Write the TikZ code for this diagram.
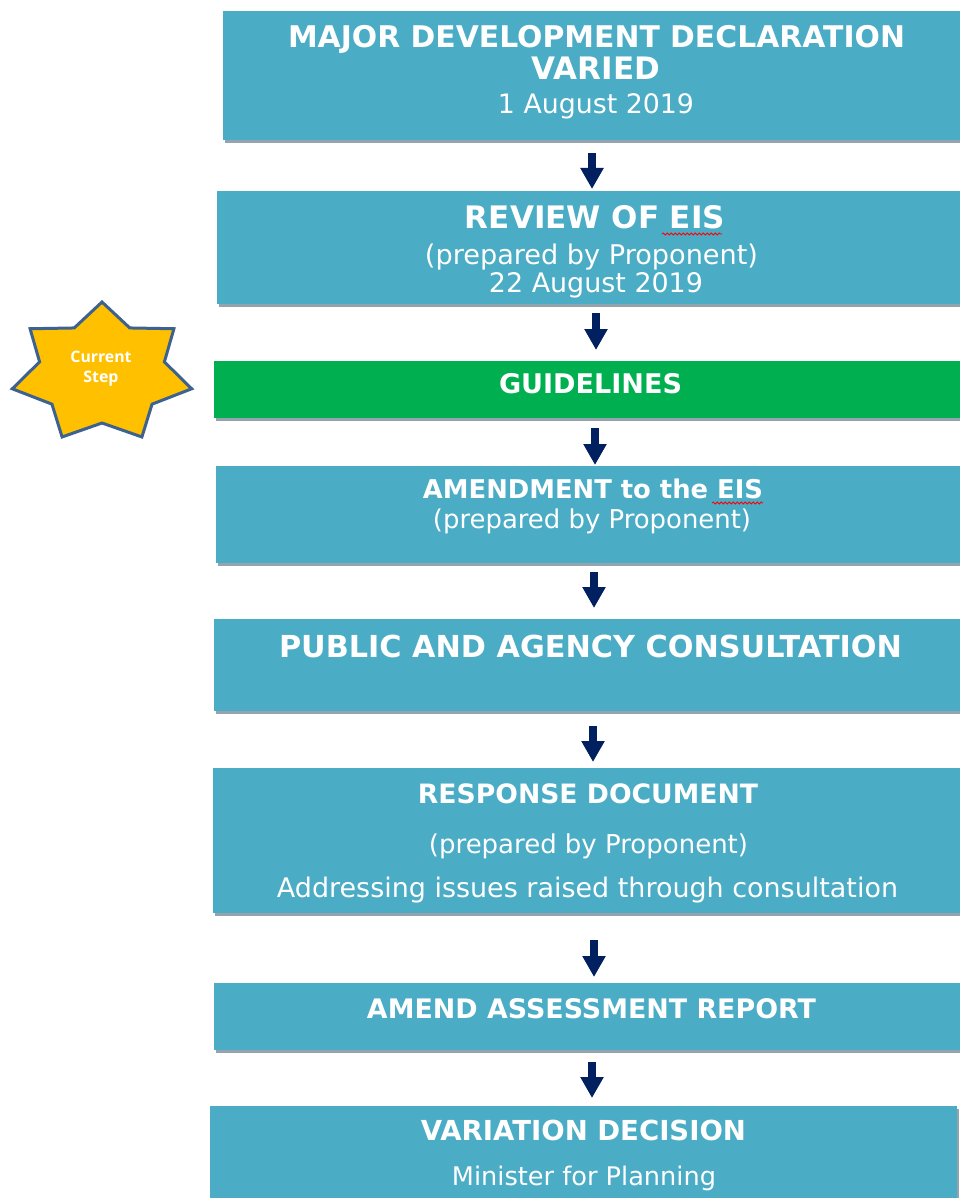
\documentclass[tikz,border=0pt]{standalone}
\usepackage{fontspec}
\setmainfont{DejaVu Sans}
\newfontfamily\starfont{Open Sans}
\usepackage{graphicx}
\usetikzlibrary{shadows,arrows.meta,decorations.pathmorphing}

\definecolor{stepblue}{HTML}{4BACC6}
\definecolor{stepgreen}{HTML}{00B050}
\definecolor{arrownavy}{HTML}{002060}
\definecolor{starfill}{HTML}{FFC000}
\definecolor{starline}{HTML}{3E6290}
\definecolor{shadowgray}{HTML}{93A4AE}

% bold heading line and plain line, each scaled to a given width
\newcommand{\capsline}[2]{\resizebox{#1pt}{!}{\bfseries #2}}
\newcommand{\textline}[2]{\resizebox{#1pt}{!}{#2}}

\tikzset{
  stepbox/.style={fill=stepblue, draw=none, inner sep=0pt, outer sep=0pt,
    anchor=north west,
    drop shadow={shadow xshift=2pt, shadow yshift=-3pt, fill=shadowgray, opacity=1}},
  greenbox/.style={stepbox, fill=stepgreen},
  tx/.style={anchor=base, inner sep=0pt, outer sep=0pt, text=white},
  flowarrow/.style={draw=arrownavy, line width=8pt,
    -{Triangle[width=22pt,length=21pt]}},
  spellmark/.style={draw=red, line width=0.8pt, decorate,
    decoration={snake, amplitude=1pt, segment length=4pt}},
}

\begin{document}
\begin{tikzpicture}[x=1pt, y=-1pt]
\useasboundingbox (0,0) rectangle (960,1198);

% process boxes
\node[stepbox, minimum width=739pt, minimum height=129pt] (b1) at (223,11) {};
\node[stepbox, minimum width=745pt, minimum height=113pt] (b2) at (217,191) {};
\node[greenbox, minimum width=748pt, minimum height=57pt] (b3) at (214,361) {};
\node[stepbox, minimum width=746pt, minimum height=97pt] (b4) at (216,466) {};
\node[stepbox, minimum width=748pt, minimum height=92pt] (b5) at (214,619) {};
\node[stepbox, minimum width=749pt, minimum height=145pt] (b6) at (213,768) {};
\node[stepbox, minimum width=748pt, minimum height=67pt] (b7) at (214,983) {};
\node[stepbox, minimum width=747pt, minimum height=96pt] (b8) at (210,1106) {};

% box texts
\node[tx] (t1a) at (596.5,48) {\capsline{617}{MAJOR DEVELOPMENT DECLARATION}};
\node[tx] (t1b) at (596,80) {\capsline{128}{VARIED}};
\node[tx] (t1c) at (596,114) {\textline{196}{1 August 2019}};

\node[tx] (t2a) at (595,229) {\capsline{260}{REVIEW OF EIS}};
\node[tx] (t2b) at (591.5,264) {\textline{333}{(prepared by Proponent)}};
\node[tx] (t2c) at (596,292) {\textline{214}{22 August 2019}};

\node[tx] (t3a) at (590.5,393) {\capsline{183}{GUIDELINES}};

\node[tx] (t4a) at (593,498) {\capsline{340}{AMENDMENT to the EIS}};
\node[tx] (t4b) at (592,528) {\textline{318}{(prepared by Proponent)}};

\node[tx] (t5a) at (590.5,657) {\capsline{623}{PUBLIC AND AGENCY CONSULTATION}};

\node[tx] (t6a) at (588,803) {\capsline{340}{RESPONSE DOCUMENT}};
\node[tx] (t6b) at (588.5,853) {\textline{319}{(prepared by Proponent)}};
\node[tx] (t6c) at (587.5,897) {\textline{621}{Addressing issues raised through consultation}};

\node[tx] (t7a) at (591.5,1018) {\capsline{449}{AMEND ASSESSMENT REPORT}};

\node[tx] (t8a) at (583.5,1140) {\capsline{325}{VARIATION DECISION}};
\node[tx] (t8b) at (584,1185) {\textline{264}{Minister for Planning}};

% spell-check marks under EIS
\draw[spellmark] (662,234) -- (722,234);
\draw[spellmark] (712,503) -- (763,503);

% arrow columns
\coordinate (ax1) at (592,0);
\coordinate (ax2) at (596,0);
\coordinate (ax3) at (595,0);
\coordinate (ax4) at (594,0);
\coordinate (ax5) at (593,0);
\coordinate (ax6) at (594,0);
\coordinate (ax7) at (592,0);

% connectors
\draw[flowarrow, shorten <=13pt, shorten >=2pt] (b1.south -| ax1) -- (b2.north -| ax1);
\draw[flowarrow, shorten <=9pt, shorten >=11pt] (b2.south -| ax2) -- (b3.north -| ax2);
\draw[flowarrow, shorten <=10pt, shorten >=1pt] (b3.south -| ax3) -- (b4.north -| ax3);
\draw[flowarrow, shorten <=9pt, shorten >=11pt] (b4.south -| ax4) -- (b5.north -| ax4);
\draw[flowarrow, shorten <=15pt, shorten >=6pt] (b5.south -| ax5) -- (b6.north -| ax5);
\draw[flowarrow, shorten <=27pt, shorten >=6pt] (b6.south -| ax6) -- (b7.north -| ax6);
\draw[flowarrow, shorten <=12pt, shorten >=8pt] (b7.south -| ax7) -- (b8.north -| ax7);

% seven-point star marking the current step
\draw[fill=starfill, draw=starline, line width=3pt, line join=miter]
  (102,302)
  \foreach \k in {1,...,13} {
    -- ({102 + ifthenelse(iseven(\k),92,64)*cos(90-\k*360/14)},
        {373 - ifthenelse(iseven(\k),71,50)*sin(90-\k*360/14)})
  } -- cycle;
\node[tx] (s1) at (101,362) {\textline{61}{\starfont\bfseries Current}};
\node[tx] (s2) at (101,382) {\textline{35}{\starfont\bfseries Step}};

\end{tikzpicture}
\end{document}
